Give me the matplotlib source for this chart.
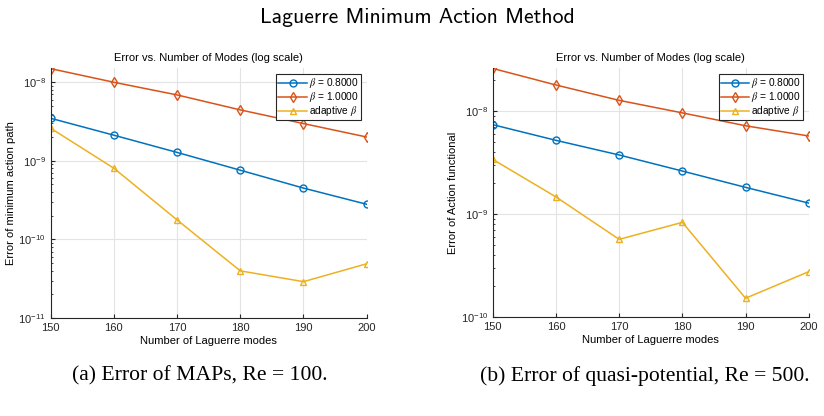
import matplotlib
matplotlib.use("Agg")
import matplotlib.pyplot as plt
from matplotlib.ticker import LogLocator, NullFormatter

modes = [150, 160, 170, 180, 190, 200]

# (a) error of minimum action path, Re = 100
map_beta08 = [3.48e-9, 2.12e-9, 1.28e-9, 7.6e-10, 4.5e-10, 2.8e-10]
map_beta10 = [1.49e-8, 1.0e-8, 6.9e-9, 4.45e-9, 2.98e-9, 2.01e-9]
map_adapt = [2.6e-9, 8.05e-10, 1.77e-10, 3.98e-11, 2.9e-11, 4.9e-11]

# (b) error of action functional, Re = 500
act_beta08 = [7.38e-9, 5.2e-9, 3.75e-9, 2.62e-9, 1.82e-9, 1.28e-9]
act_beta10 = [2.59e-8, 1.79e-8, 1.27e-8, 9.6e-9, 7.2e-9, 5.73e-9]
act_adapt = [3.4e-9, 1.47e-9, 5.7e-10, 8.33e-10, 1.53e-10, 2.77e-10]

labels = [r'$\beta$ = 0.8000', r'$\beta$ = 1.0000', r'adaptive $\beta$']
colors = ['#0072BD', '#D95319', '#EDB120']
markers = ['o', 'd', '^']

plt.rcParams['font.family'] = ['Liberation Sans', 'DejaVu Sans']
plt.rcParams['mathtext.fontset'] = 'stix'

fig = plt.figure(figsize=(8.24, 4.16), dpi=100)
ax1 = fig.add_axes([0.0615, 0.2356, 0.3835, 0.601])
ax2 = fig.add_axes([0.598, 0.2373, 0.3835, 0.599])


def draw(ax, series, ylabel, ylim):
    for vals, lab, c, m in zip(series, labels, colors, markers):
        ax.plot(modes, vals, color=c, marker=m, markerfacecolor='none',
                markersize=5, markeredgewidth=1.0, linewidth=1.1, label=lab)
    ax.set_yscale('log')
    ax.set_xlim(150, 200)
    ax.set_ylim(*ylim)
    ax.set_xticks(modes)
    ax.yaxis.set_major_locator(LogLocator(base=10))
    ax.yaxis.set_minor_locator(LogLocator(base=10, subs=range(2, 10)))
    ax.yaxis.set_minor_formatter(NullFormatter())
    ax.grid(True, which='major', color='#e3e3e3', linewidth=0.8)
    ax.set_axisbelow(True)
    for s in ['top', 'right']:
        ax.spines[s].set_visible(False)
    for s in ['left', 'bottom']:
        ax.spines[s].set_color('#262626')
        ax.spines[s].set_linewidth(0.8)
    ax.tick_params(which='both', direction='in', colors='#262626', labelsize=8)
    ax.tick_params(which='major', length=3)
    ax.tick_params(which='minor', length=1.5)
    ax.set_title('Error vs. Number of Modes (log scale)', fontsize=8, pad=5)
    ax.set_xlabel('Number of Laguerre modes', fontsize=8, labelpad=2)
    ax.set_ylabel(ylabel, fontsize=8, labelpad=2)
    leg = ax.legend(loc='upper right', fontsize=7.3, fancybox=False,
                    edgecolor='#262626', framealpha=1, borderpad=0.2,
                    labelspacing=0.0, handlelength=2.8, handletextpad=0.2,
                    borderaxespad=0.6)
    leg.get_frame().set_linewidth(0.8)


draw(ax1, [map_beta08, map_beta10, map_adapt], 'Error of minimum action path',
     (1e-11, 1.52e-8))
draw(ax2, [act_beta08, act_beta10, act_adapt], 'Error of Action functional',
     (1e-10, 2.61e-8))

fig.text(0.507, 0.958, 'Laguerre Minimum Action Method', ha='center', va='center',
         fontsize=15.6, family='cmss10')
fig.text(0.243, 0.096, '(a) Error of MAPs, Re = 100.', ha='center', va='center',
         fontsize=15.6, family='Liberation Serif')
fig.text(0.783, 0.096, '(b) Error of quasi-potential, Re = 500.', ha='center',
         va='center', fontsize=15.6, family='Liberation Serif')

fig.savefig('out.png', dpi=100)
